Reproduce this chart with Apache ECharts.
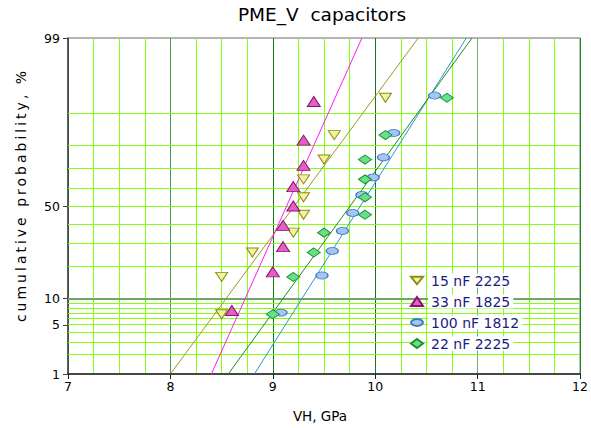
<!DOCTYPE html>
<html>
<head>
<meta charset="utf-8">
<script src="https://cdn.jsdelivr.net/npm/echarts@6/dist/echarts.min.js"></script>
<style>
  html, body { margin: 0; padding: 0; background: #fff; }
  #chart { width: 591px; height: 428px; }
  text[style*="yname"] { letter-spacing: 3px; }
</style>
</head>
<body>
<div id="chart"></div>
<script>
// ---- data ----
const seriesNames = ['15 nF 2225', '33 nF 1825', '100 nF 1812', '22 nF 2225'];

const x15 = [8.5, 8.5, 8.8, 9.2, 9.3, 9.3, 9.3, 9.5, 9.6, 10.1];
const p15 = [6.7, 16.3, 26.0, 35.6, 45.2, 54.8, 64.4, 74.0, 83.7, 93.3];

const x33 = [8.6, 9.0, 9.1, 9.1, 9.2, 9.2, 9.3, 9.3, 9.4];
const p33 = [7.4, 18.1, 28.7, 39.4, 50.0, 60.6, 71.3, 81.9, 92.6];

const x100 = [9.08, 9.48, 9.58, 9.68, 9.78, 9.87, 9.98, 10.08, 10.18, 10.58];
const p100 = [7.0, 16.8, 26.7, 36.5, 46.2, 56.1, 65.4, 75.0, 84.4, 93.7];

const x22 = [9.0, 9.2, 9.4, 9.5, 9.9, 9.9, 9.9, 9.9, 10.1, 10.7];
const p22 = [6.7, 16.3, 26.0, 35.6, 45.2, 54.8, 64.4, 74.0, 83.7, 93.3];

// fitted lines: x at 1 % and at 99 %
const fitP = [1, 99];
const fit15 = [8.0, 10.42];
const fit33 = [8.40, 9.87];
const fit100 = [8.82, 10.89];
const fit22 = [8.565, 10.945];

// axis ticks
const yTickProbs = [1, 5, 10, 50, 99];
const yGridProbs = [2, 3, 4, 5, 6, 7, 8, 9, 10, 20, 30, 40, 50, 60, 70, 80, 90];
const yMajorGridProbs = [10];
const xMin = 7, xMax = 12, xStep = 1;

// ---- normal probability scale ----
function probit(p) {
  const a = [-3.969683028665376e+01, 2.209460984245205e+02, -2.759285104469687e+02, 1.383577518672690e+02, -3.066479806614716e+01, 2.506628277459239e+00];
  const b = [-5.447609879822406e+01, 1.615858368580409e+02, -1.556989798598866e+02, 6.680131188771972e+01, -1.328068155288572e+01];
  const c = [-7.784894002430293e-03, -3.223964580411365e-01, -2.400758277161838e+00, -2.549671348850451e+00, 4.374664141464968e+00, 2.938163982698783e+00];
  const d = [7.784695709041462e-03, 3.224671290700398e-01, 2.445134137142996e+00, 3.754408661907416e+00];
  const pl = 0.02425, ph = 1 - pl;
  let q, r;
  if (p < pl) {
    q = Math.sqrt(-2 * Math.log(p));
    return (((((c[0]*q+c[1])*q+c[2])*q+c[3])*q+c[4])*q+c[5]) / ((((d[0]*q+d[1])*q+d[2])*q+d[3])*q+1);
  }
  if (p <= ph) {
    q = p - 0.5; r = q * q;
    return (((((a[0]*r+a[1])*r+a[2])*r+a[3])*r+a[4])*r+a[5])*q / (((((b[0]*r+b[1])*r+b[2])*r+b[3])*r+b[4])*r+1);
  }
  q = Math.sqrt(-2 * Math.log(1 - p));
  return -(((((c[0]*q+c[1])*q+c[2])*q+c[3])*q+c[4])*q+c[5]) / ((((d[0]*q+d[1])*q+d[2])*q+d[3])*q+1);
}
const P = v => probit(v / 100);
const yMin = P(1), yMax = P(99);
const yTickVals = yTickProbs.map(P);

function pts(xs, ps) { return xs.map((x, i) => [x, P(ps[i])]); }

const FONT = 'DejaVu Sans';
const chart = echarts.init(document.getElementById('chart'), null, { renderer: 'svg' });

const scatterStyles = [
  { symbol: 'triangle', rotate: 180, size: [12, 9], fill: '#f2f2a0', stroke: '#8c8c14', icon: 'path://M0 0L12 0L6 7.5Z' },
  { symbol: 'triangle', rotate: 0, size: [13, 10], fill: '#e060c4', stroke: '#8e1070', icon: 'triangle' },
  { symbol: 'circle', rotate: 0, size: [12, 7], fill: '#a8c4f0', stroke: '#3a7cc8', icon: 'path://M0 3.5A6 3.5 0 1 0 12 3.5A6 3.5 0 1 0 0 3.5Z' },
  { symbol: 'diamond', rotate: 0, size: [13, 9], fill: '#66e08a', stroke: '#1a9030', icon: 'diamond' }
];
const lineColors = ['#9a9a1e', '#ff18ff', '#2a96d6', '#1e8e1e'];
const pointSets = [pts(x15, p15), pts(x33, p33), pts(x100, p100), pts(x22, p22)];
const fitSets = [fit15, fit33, fit100, fit22];

const series = [];
// grid lines (horizontal, probability scale)
series.push({
  name: 'grid', type: 'line', data: [], z: 1, silent: true,
  markLine: {
    z: 1, silent: true, symbol: ['none', 'none'], label: { show: false }, animation: false,
    emphasis: { disabled: true },
    data: yGridProbs.map(p => {
      const major = yMajorGridProbs.indexOf(p) >= 0;
      return {
        yAxis: P(p),
        lineStyle: major ? { color: '#6aa86a', width: 2, type: 'solid' }
                         : { color: '#84ff10', width: 1, type: 'solid' }
      };
    })
  }
});
fitSets.forEach((f, i) => {
  series.push({
    name: 'fit ' + seriesNames[i], type: 'line', z: 2, silent: true,
    showSymbol: false, symbol: 'none',
    lineStyle: { color: lineColors[i], width: 1 },
    data: f.map((x, k) => [x, P(fitP[k])])
  });
});
pointSets.forEach((d, i) => {
  const s = scatterStyles[i];
  series.push({
    name: seriesNames[i], type: 'scatter', z: 3,
    symbol: s.symbol, symbolRotate: s.rotate, symbolSize: s.size,
    itemStyle: { color: s.fill, borderColor: s.stroke, borderWidth: 1, opacity: 1 },
    data: d
  });
});

chart.setOption({
  animation: false,
  backgroundColor: '#fff',
  title: {
    text: 'PME_V  capacitors', left: 322, top: 5, padding: 0, textAlign: 'center',
    textStyle: { fontFamily: FONT, fontSize: 18.5, fontWeight: 'normal', color: '#000' }
  },
  grid: { left: 68, right: 9, top: 38, bottom: 54, show: true, borderColor: '#6a6a6a', borderWidth: 1, backgroundColor: '#fff' },
  legend: {
    orient: 'vertical', left: 410, top: 272, padding: 0, z: 10,
    itemWidth: 12, itemHeight: 9, itemGap: 4,
    data: seriesNames.map((n, i) => ({ name: n, icon: scatterStyles[i].icon })),
    formatter: '{t|{name}}',
    textStyle: {
      fontFamily: FONT, fontSize: 14, color: '#1c1c7e', lineHeight: 17,
      rich: { t: { fontFamily: FONT, fontSize: 14, color: '#1c1c7e', backgroundColor: '#fff', padding: [0, 3, 0, 3], lineHeight: 17 } }
    }
  },
  xAxis: {
    type: 'value', min: xMin, max: xMax, interval: xStep,
    axisLine: { show: true, onZero: false, lineStyle: { color: '#222', width: 1.5 } },
    axisTick: { show: true, inside: false, length: 5, lineStyle: { color: '#222' } },
    axisLabel: { fontFamily: FONT, fontSize: 12.5, color: '#000', margin: 6 },
    splitLine: { show: true, lineStyle: { color: ['#1e8a1e', '#4a9e4a', '#137a13', '#137a13', '#6fb06f', '#1e8a1e'], width: 1 } },
    minorTick: { show: false, splitNumber: 4 },
    minorSplitLine: { show: true, lineStyle: { color: '#84ff10', width: 1 } }
  },
  yAxis: {
    type: 'value', min: yMin, max: yMax,
    axisLine: { show: true, onZero: false, lineStyle: { color: '#444', width: 1.5 } },
    axisTick: { show: true, inside: false, length: 5, customValues: yTickVals, lineStyle: { color: '#444' } },
    axisLabel: {
      fontFamily: FONT, fontSize: 12.5, color: '#000', margin: 8,
      customValues: yTickVals,
      formatter: v => {
        let best = 0, bd = Infinity;
        yTickVals.forEach((t, i) => { const dd = Math.abs(t - v); if (dd < bd) { bd = dd; best = i; } });
        return String(yTickProbs[best]);
      }
    },
    splitLine: { show: false }
  },
  graphic: [
    {
      type: 'text', x: 21, y: 195, rotation: Math.PI / 2, silent: true,
      style: { text: 'cumulative probability, %', fontFamily: FONT + ', yname', fontSize: 14, fill: '#000', align: 'center', verticalAlign: 'middle' }
    },
    {
      type: 'text', x: 320, y: 416, silent: true,
      style: { text: 'VH, GPa', fontFamily: FONT, fontSize: 13.5, fill: '#000', align: 'center', verticalAlign: 'middle' }
    }
  ],
  series: series
});
</script>
</body>
</html>
